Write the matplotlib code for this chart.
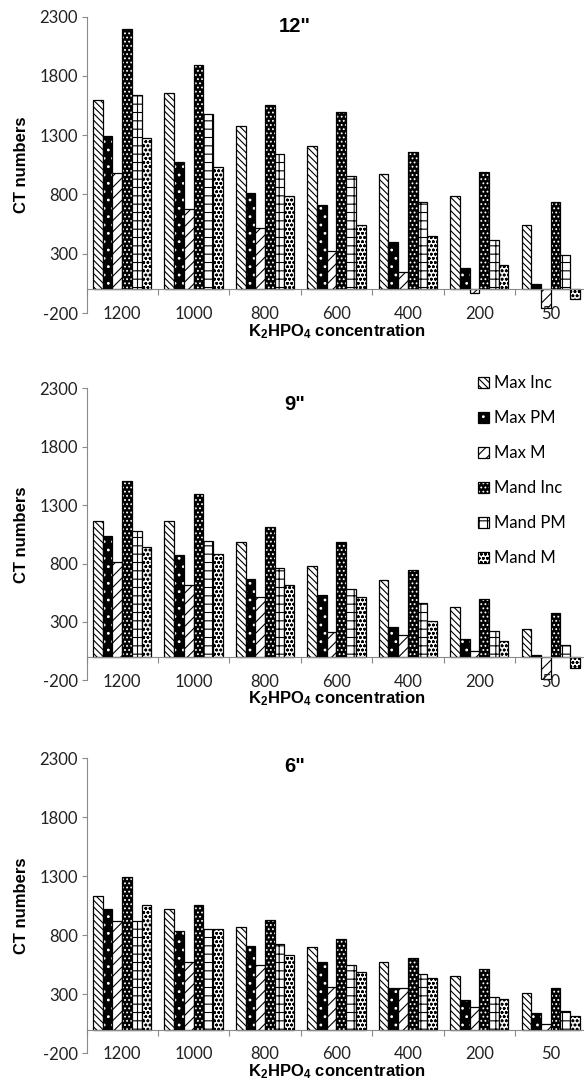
import numpy as np
import matplotlib
matplotlib.use('Agg')
import matplotlib.pyplot as plt

conc = ['1200', '1000', '800', '600', '400', '200', '50']
series = ['Max Inc', 'Max PM', 'Max M', 'Mand Inc', 'Mand PM', 'Mand M']

# rows follow series order, columns follow conc order
ct_12 = [[1600, 1660, 1375, 1205, 975, 785, 540],
         [1295, 1075, 810, 715, 395, 180, 45],
         [985, 680, 520, 320, 145, -30, -160],
         [2195, 1890, 1555, 1495, 1160, 990, 740],
         [1640, 1480, 1145, 960, 740, 420, 290],
         [1280, 1035, 785, 540, 450, 205, -80]]
ct_9 = [[1165, 1165, 980, 780, 660, 430, 240],
        [1035, 870, 665, 530, 255, 150, 15],
        [815, 615, 515, 215, 190, 55, -190],
        [1510, 1395, 1110, 980, 745, 495, 375],
        [1080, 995, 765, 580, 460, 225, 105],
        [945, 885, 615, 515, 305, 135, -95]]
ct_6 = [[1130, 1025, 870, 705, 570, 455, 310],
        [1020, 840, 710, 570, 350, 250, 145],
        [920, 575, 545, 365, 350, 190, 50],
        [1290, 1060, 930, 765, 605, 515, 350],
        [925, 850, 725, 545, 470, 280, 160],
        [1060, 850, 630, 485, 440, 260, 120]]

faces = ['white', 'black', 'white', 'black', 'white', 'white']
hcols = ['black', 'white', 'black', 'white', 'black', 'black']
hatches = ['\\\\\\\\\\', '..', '///', '....', '++', 'oooo']

plt.rcParams['font.family'] = ['Lato', 'DejaVu Sans']
plt.rcParams['mathtext.default'] = 'regular'
plt.rcParams['axes.unicode_minus'] = False
plt.rcParams['hatch.linewidth'] = 0.8

fig = plt.figure(figsize=(5.84, 10.83), dpi=100)
W, H = 584.0, 1083.0
bw = 0.136
grey = '#8a8a8a'


def panel(data, top_px, bot_px, title, title_px):
    ax = fig.add_axes([86.5 / W, 1 - bot_px / H, 500 / W, (bot_px - top_px) / H])
    x = np.arange(len(conc))
    handles = []
    for k, vals in enumerate(data):
        pos = x + (k - 2.5) * bw
        fill = ax.bar(pos, vals, bw, color=faces[k], edgecolor=hcols[k],
                      hatch=hatches[k], linewidth=0)
        edge = ax.bar(pos, vals, bw, facecolor='none', edgecolor='black', linewidth=0.9)
        handles.append((fill, edge))
    ax.set_xlim(-0.5, 6.5)
    ax.set_ylim(-200, 2300)
    ax.set_yticks(np.arange(-200, 2301, 500))
    for s in ['top', 'right']:
        ax.spines[s].set_visible(False)
    ax.spines['left'].set_color(grey)
    ax.spines['bottom'].set_color(grey)
    ax.spines['bottom'].set_position(('data', 0))
    ax.set_xticks(np.arange(-0.5, 7, 1))
    ax.set_xticklabels([])
    ax.set_xticks(x, minor=True)
    ax.set_xticklabels(conc, minor=True)
    ax.tick_params(axis='x', which='major', length=4, color=grey)
    ax.tick_params(axis='x', which='minor', length=0, pad=12, labelsize=12, labelcolor='#222')
    ax.tick_params(axis='y', length=3.5, color=grey, pad=2.5, labelsize=12, labelcolor='#222')
    ax.set_ylabel('CT numbers', family='Liberation Sans', weight='bold', fontsize=12, labelpad=8)
    ax.set_xlabel('K$_2$HPO$_4$ concentration', family='Liberation Sans', weight='bold',
                  fontsize=12, labelpad=0)
    fig.text(295 / W, 1 - title_px / H, title, family='Liberation Sans', weight='bold',
             fontsize=14.5, ha='center', va='center')
    return handles


panel(ct_12, 16.7, 313, '12"', 26)
h = panel(ct_9, 388.3, 680.3, '9"', 404)
panel(ct_6, 758.3, 1053.3, '6"', 767)

fig.legend(h, series, loc='upper left', bbox_to_anchor=(478 / W, 1 - 375 / H),
           frameon=False, fontsize=12, handlelength=0.66, handleheight=0.66,
           handletextpad=0.3, labelspacing=1.14, borderpad=0, borderaxespad=0)

fig.savefig('out.png', dpi=100)
